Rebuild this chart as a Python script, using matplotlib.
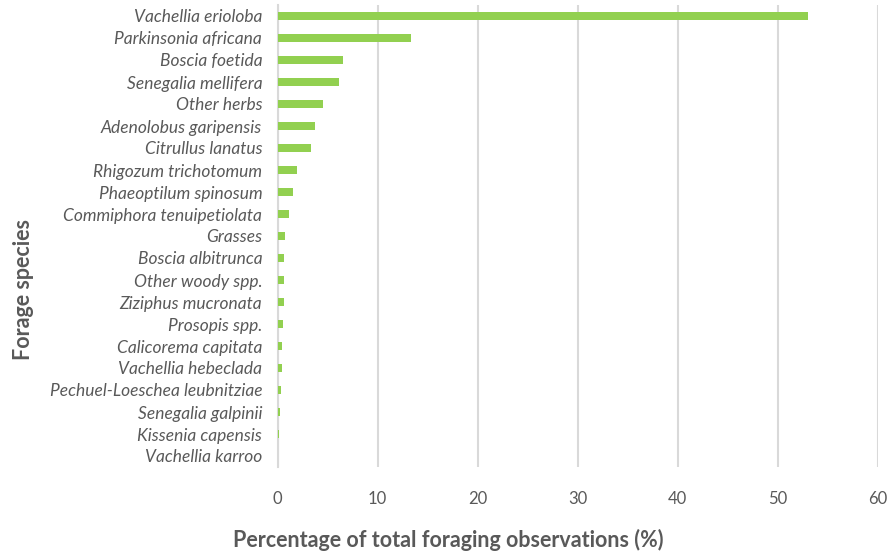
import matplotlib
matplotlib.use('Agg')
import matplotlib.pyplot as plt

# share of foraging observations per forage species (%)
species = ['Vachellia erioloba', 'Parkinsonia africana', 'Boscia foetida',
           'Senegalia mellifera', 'Other herbs', 'Adenolobus garipensis',
           'Citrullus lanatus', 'Rhigozum trichotomum', 'Phaeoptilum spinosum',
           'Commiphora tenuipetiolata', 'Grasses', 'Boscia albitrunca',
           'Other woody spp.', 'Ziziphus mucronata', 'Prosopis spp.',
           'Calicorema capitata', 'Vachellia hebeclada',
           'Pechuel-Loeschea leubnitziae', 'Senegalia galpinii',
           'Kissenia capensis', 'Vachellia karroo']
percent = [53.0, 13.3, 6.5, 6.1, 4.5, 3.7, 3.35, 1.9, 1.5, 1.1, 0.73,
           0.67, 0.67, 0.67, 0.5, 0.43, 0.43, 0.33, 0.27, 0.1, 0.02]
x_ticks = [0, 10, 20, 30, 40, 50, 60]

grey = '#595959'
plt.rcParams['font.family'] = ['Lato', 'DejaVu Sans']

fig = plt.figure(figsize=(8.89, 5.54), dpi=100)
ax = fig.add_axes([277.5 / 889, 1 - 467 / 554, 600.5 / 889, 462 / 554])

pos = list(range(len(species)))
ax.barh(pos, percent, height=0.36, color='#92D050', zorder=3)

ax.set_xlim(0, 60)
ax.set_ylim(len(species) - 0.5, -0.5)
ax.set_xticks(x_ticks)
ax.set_xticklabels([str(t) for t in x_ticks], color=grey, fontsize=12)
ax.set_yticks(pos)
ax.set_yticklabels(species, color=grey, fontsize=12.5, style='italic')
ax.tick_params(axis='both', length=0)
ax.tick_params(axis='x', pad=17)
ax.tick_params(axis='y', pad=11)

ax.grid(axis='x', color='#D9D9D9', linewidth=1.5, zorder=0)
for side in ['top', 'right', 'bottom']:
    ax.spines[side].set_visible(False)
ax.spines['left'].set_color('#D9D9D9')
ax.spines['left'].set_linewidth(1.5)

fig.text(448 / 889, 1 - 540 / 554, 'Percentage of total foraging observations (%)',
         ha='center', va='center', fontsize=15.5, fontweight='bold', color=grey)
fig.text(23 / 889, 1 - 289 / 554, 'Forage species', rotation=90,
         ha='center', va='center', fontsize=15.5, fontweight='bold', color=grey)

fig.savefig('out.png', dpi=100)
